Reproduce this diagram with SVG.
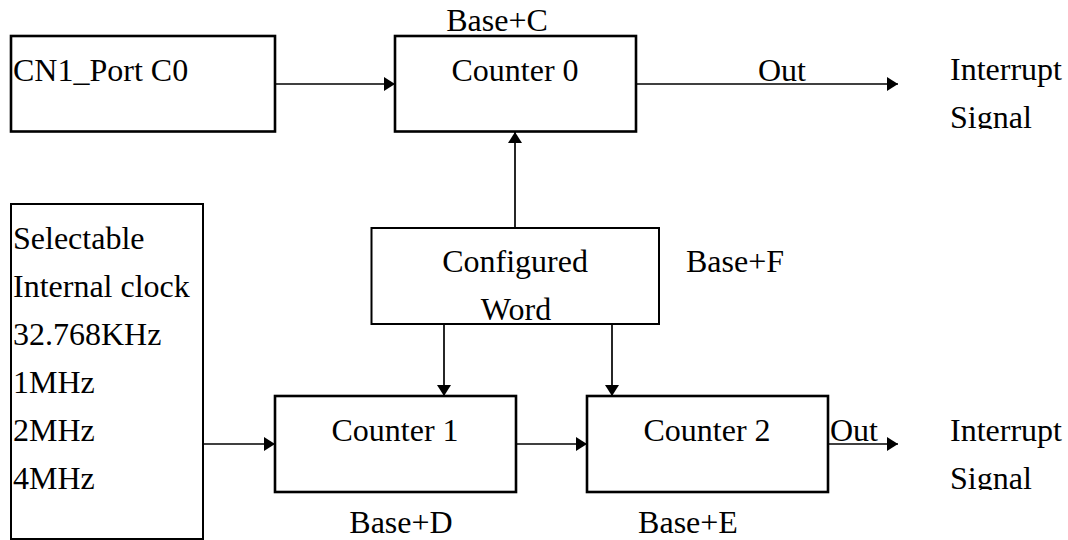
<svg xmlns="http://www.w3.org/2000/svg" width="1068" height="540" viewBox="0 0 1068 540" font-family="'Liberation Serif', 'Times New Roman', Times, serif" font-size="32">
  <style>
    text { font-family: 'Liberation Serif', 'Times New Roman', Times, serif; font-size: 32px; fill: #000; }
    .box { fill: #fff; stroke: #000; stroke-width: 2.6; }
    .thin { fill: #fff; stroke: #000; stroke-width: 2; }
    .wire { fill: none; stroke: #000; stroke-width: 1.7; }
    .mid { text-anchor: middle; }
  </style>
  <defs>
    <marker id="arrow" viewBox="0 0 11 14" refX="11" refY="7" markerWidth="11" markerHeight="14" markerUnits="userSpaceOnUse" orient="auto">
      <path d="M0,0 L11,7 L0,14 Z" fill="#000"/>
    </marker>
    <clipPath id="clipSig1"><rect x="900" y="90" width="168" height="39"/></clipPath>
    <clipPath id="clipSig2"><rect x="900" y="450" width="168" height="40"/></clipPath>
  </defs>

  <g id="cn1">
    <rect class="box" x="11" y="36" width="264" height="95.5"/>
    <text x="13" y="81">CN1_Port C0</text>
  </g>

  <g id="counter0">
    <rect class="box" x="395" y="36" width="241" height="95.5"/>
    <text class="mid" x="515" y="81">Counter 0</text>
    <text class="mid" x="497" y="31">Base+C</text>
  </g>

  <g id="clock">
    <rect class="thin" x="11" y="204" width="192" height="335"/>
    <text x="13" y="249">Selectable</text>
    <text x="13" y="297">Internal clock</text>
    <text x="13" y="345">32.768KHz</text>
    <text x="13" y="393">1MHz</text>
    <text x="13" y="441">2MHz</text>
    <text x="13" y="489">4MHz</text>
  </g>

  <g id="config">
    <rect class="thin" x="371.5" y="228" width="287.5" height="96"/>
    <text class="mid" x="515" y="272">Configured</text>
    <text class="mid" x="516" y="320">Word</text>
    <text x="686" y="272">Base+F</text>
  </g>

  <g id="counter1">
    <rect class="box" x="275" y="396" width="241" height="96"/>
    <text class="mid" x="395" y="441">Counter 1</text>
    <text class="mid" x="401" y="533">Base+D</text>
  </g>

  <g id="counter2">
    <rect class="box" x="587" y="396" width="241" height="96"/>
    <text class="mid" x="707" y="441">Counter 2</text>
    <text class="mid" x="688" y="533">Base+E</text>
  </g>

  <g id="interrupt0">
    <text x="950" y="80">Interrupt</text>
    <text x="950" y="128" clip-path="url(#clipSig1)">Signal</text>
  </g>

  <g id="interrupt2">
    <text x="950" y="441">Interrupt</text>
    <text x="950" y="489" clip-path="url(#clipSig2)">Signal</text>
  </g>

  <g id="connectors">
    <line class="wire" x1="275" y1="84" x2="395" y2="84" marker-end="url(#arrow)"/>
    <line class="wire" x1="636" y1="84" x2="898" y2="84" marker-end="url(#arrow)"/>
    <text class="mid" x="782" y="81">Out</text>
    <line class="wire" x1="515" y1="228" x2="515" y2="132" marker-end="url(#arrow)"/>
    <line class="wire" x1="444" y1="324" x2="444" y2="396" marker-end="url(#arrow)"/>
    <line class="wire" x1="612" y1="324" x2="612" y2="396" marker-end="url(#arrow)"/>
    <line class="wire" x1="203" y1="444" x2="275" y2="444" marker-end="url(#arrow)"/>
    <line class="wire" x1="516" y1="444" x2="587" y2="444" marker-end="url(#arrow)"/>
    <line class="wire" x1="828" y1="444" x2="898" y2="444" marker-end="url(#arrow)"/>
    <text x="830" y="441">Out</text>
  </g>
</svg>
